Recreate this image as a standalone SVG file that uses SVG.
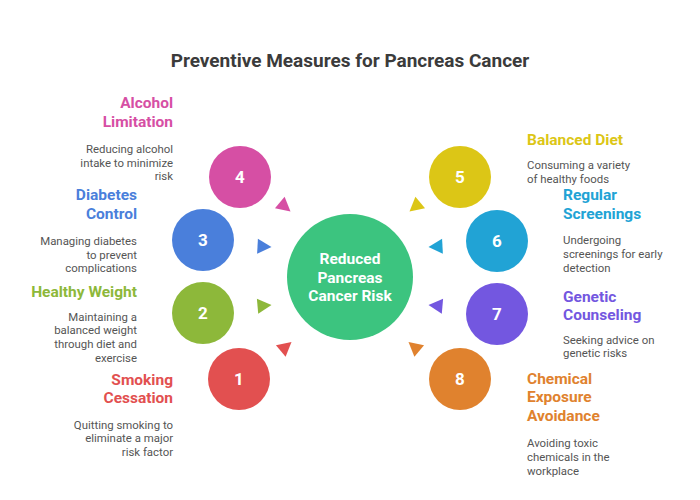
<svg xmlns="http://www.w3.org/2000/svg" width="700" height="500" viewBox="0 0 700 500">
<style>
.title{font-family:Roboto,"Liberation Sans",sans-serif;font-weight:bold;font-size:19px;fill:#3b3b3b}
.h{font-family:Roboto,"Liberation Sans",sans-serif;font-weight:bold;font-size:15.5px}
.d{font-family:Roboto,"Liberation Sans",sans-serif;font-size:11.4px;fill:#555555}
.n{font-family:Roboto,"Liberation Sans",sans-serif;font-weight:bold;font-size:17px;fill:#ffffff;text-anchor:middle}
.c{font-family:Roboto,"Liberation Sans",sans-serif;font-weight:bold;font-size:15.5px;fill:#ffffff;text-anchor:middle}
.r{text-anchor:end}
</style>
<defs>
<path id="tri" d="M0,0 L-14,-7.5 L-14,7.5 Z"/>
</defs>
<rect width="700" height="500" fill="#ffffff"/>
<text class="title" x="350" y="67" text-anchor="middle">Preventive Measures for Pancreas Cancer</text>

<g id="connectors">
<use href="#tri" fill="#D64FA4" transform="translate(290.5,211.5) rotate(40)"/>
<use href="#tri" fill="#4A7FDB" transform="translate(271.5,247) rotate(3)"/>
<use href="#tri" fill="#8DB83A" transform="translate(271.5,305) rotate(-5)"/>
<use href="#tri" fill="#E25050" transform="translate(291.5,342) rotate(-40)"/>
<use href="#tri" fill="#DCC616" transform="translate(409.5,211.5) rotate(140)"/>
<use href="#tri" fill="#21A3D5" transform="translate(428.5,247) rotate(177)"/>
<use href="#tri" fill="#7357E0" transform="translate(428.5,305) rotate(185)"/>
<use href="#tri" fill="#E0822E" transform="translate(408.5,342) rotate(220)"/>
</g>

<g id="center">
<circle cx="350" cy="277" r="63" fill="#3CC47F"/>
<text class="c" x="350" y="264">Reduced</text>
<text class="c" x="350" y="283">Pancreas</text>
<text class="c" x="350" y="301">Cancer Risk</text>
</g>

<g id="node4">
<circle cx="240" cy="177" r="31" fill="#D64FA4"/>
<text class="n" x="240" y="183">4</text>
<text class="h r" x="173" y="108" fill="#D64FA4">Alcohol</text>
<text class="h r" x="173" y="127" fill="#D64FA4">Limitation</text>
<text class="d r" x="173" y="153">Reducing alcohol</text>
<text class="d r" x="173" y="166.5">intake to minimize</text>
<text class="d r" x="173" y="180">risk</text>
</g>

<g id="node3">
<circle cx="203" cy="240" r="31" fill="#4A7FDB"/>
<text class="n" x="203" y="246">3</text>
<text class="h r" x="137" y="200" fill="#4A7FDB">Diabetes</text>
<text class="h r" x="137" y="218.5" fill="#4A7FDB">Control</text>
<text class="d r" x="137" y="245">Managing diabetes</text>
<text class="d r" x="137" y="258.5">to prevent</text>
<text class="d r" x="137" y="272">complications</text>
</g>

<g id="node2">
<circle cx="203" cy="313" r="31" fill="#8DB83A"/>
<text class="n" x="203" y="319">2</text>
<text class="h r" x="137" y="297" fill="#8DB83A">Healthy Weight</text>
<text class="d r" x="137" y="320.5">Maintaining a</text>
<text class="d r" x="137" y="334">balanced weight</text>
<text class="d r" x="137" y="347.5">through diet and</text>
<text class="d r" x="137" y="361.5">exercise</text>
</g>

<g id="node1">
<circle cx="239" cy="379" r="31" fill="#E25050"/>
<text class="n" x="239" y="385">1</text>
<text class="h r" x="173" y="384.5" fill="#E25050">Smoking</text>
<text class="h r" x="173" y="403" fill="#E25050">Cessation</text>
<text class="d r" x="173" y="428.5">Quitting smoking to</text>
<text class="d r" x="173" y="442">eliminate a major</text>
<text class="d r" x="173" y="456">risk factor</text>
</g>

<g id="node5">
<circle cx="460" cy="177" r="31" fill="#DCC616"/>
<text class="n" x="460" y="183">5</text>
<text class="h" x="527" y="145" fill="#DCC616">Balanced Diet</text>
<text class="d" x="527" y="168.5">Consuming a variety</text>
<text class="d" x="527" y="182.5">of healthy foods</text>
</g>

<g id="node6">
<circle cx="497" cy="241" r="31" fill="#21A3D5"/>
<text class="n" x="497" y="247">6</text>
<text class="h" x="563" y="200" fill="#21A3D5">Regular</text>
<text class="h" x="563" y="218.5" fill="#21A3D5">Screenings</text>
<text class="d" x="563" y="244">Undergoing</text>
<text class="d" x="563" y="258">screenings for early</text>
<text class="d" x="563" y="271.5">detection</text>
</g>

<g id="node7">
<circle cx="497" cy="314" r="31" fill="#7357E0"/>
<text class="n" x="497" y="320">7</text>
<text class="h" x="563" y="302" fill="#7357E0">Genetic</text>
<text class="h" x="563" y="320" fill="#7357E0">Counseling</text>
<text class="d" x="563" y="343.5">Seeking advice on</text>
<text class="d" x="563" y="357">genetic risks</text>
</g>

<g id="node8">
<circle cx="460" cy="379" r="31" fill="#E0822E"/>
<text class="n" x="460" y="385">8</text>
<text class="h" x="527" y="383.5" fill="#E0822E">Chemical</text>
<text class="h" x="527" y="402" fill="#E0822E">Exposure</text>
<text class="h" x="527" y="420.5" fill="#E0822E">Avoidance</text>
<text class="d" x="527" y="447">Avoiding toxic</text>
<text class="d" x="527" y="461">chemicals in the</text>
<text class="d" x="527" y="475">workplace</text>
</g>
</svg>
